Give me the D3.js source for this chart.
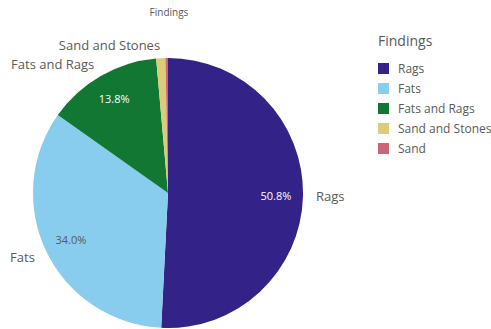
<!DOCTYPE html>
<html>
<head>
<meta charset="utf-8">
<script src="https://cdn.jsdelivr.net/npm/d3@7"></script>
<style>
  body { margin: 0; background: #fff; }
  text { font-family: "Open Sans", sans-serif; }
</style>
</head>
<body>
<div id="chart-area"></div>
<script>
// Data
const categories = ["Rags", "Fats", "Fats and Rags", "Sand and Stones", "Sand"]
const shares = [50.8, 34.0, 13.8, 1.1, 0.3]
const colors = ["#332288", "#88ccee", "#117733", "#ddcc77", "#cc6677"]

const W = 491, H = 329
const CX = 168, CY = 193, R = 135

const svg = d3.select("#chart-area").append("svg")
  .attr("width", W)
  .attr("height", H)

// Title
svg.append("text")
  .attr("x", 169).attr("y", 16)
  .attr("text-anchor", "middle")
  .attr("font-size", "10px")
  .attr("fill", "#595959")
  .text("Findings")

const data = categories.map((c, i) => ({ name: c, value: shares[i], color: colors[i] }))

const pie = d3.pie().sort(null).value(d => d.value)
const arcs = pie(data)
const arc = d3.arc().innerRadius(0).outerRadius(R)
const inner = d3.arc().innerRadius(R * 0.8).outerRadius(R * 0.8)
const outer = d3.arc().innerRadius(R + 13).outerRadius(R + 13)

const g = svg.append("g")
  .attr("transform", `translate(${CX}, ${CY})`)

g.selectAll("path")
  .data(arcs)
  .enter().append("path")
  .attr("d", arc)
  .attr("fill", d => d.data.color)

// percent labels inside
g.selectAll("text.pct")
  .data(arcs.filter(d => d.data.value > 5))
  .enter().append("text")
  .attr("class", "pct")
  .attr("transform", d => `translate(${inner.centroid(d)})`)
  .attr("text-anchor", "middle")
  .attr("dy", "0.35em")
  .attr("font-size", "11px")
  .attr("fill", d => d.data.name === "Fats" ? "#595959" : "#ffffff")
  .text(d => d.data.value.toFixed(1) + "%")

// category labels outside
g.selectAll("text.cat")
  .data(arcs.filter(d => d.data.value > 1))
  .enter().append("text")
  .attr("class", "cat")
  .attr("transform", d => `translate(${outer.centroid(d)})`)
  .attr("text-anchor", d => (d.startAngle + d.endAngle) / 2 < Math.PI ? "start" : "end")
  .attr("dy", "0.35em")
  .attr("font-size", "13px")
  .attr("fill", "#595959")
  .text(d => d.data.name)

// Legend
const legend = svg.append("g")
  .attr("transform", "translate(378, 0)")

legend.append("text")
  .attr("x", 0).attr("y", 46)
  .attr("font-size", "14px")
  .attr("fill", "#595959")
  .text("Findings")

const items = legend.selectAll("g.item")
  .data(data)
  .enter().append("g")
  .attr("class", "item")
  .attr("transform", (d, i) => `translate(0, ${63 + i * 20})`)

items.append("rect")
  .attr("width", 11).attr("height", 11)
  .attr("fill", d => d.color)

items.append("text")
  .attr("x", 20).attr("y", 6)
  .attr("dy", "0.35em")
  .attr("font-size", "12px")
  .attr("fill", "#595959")
  .text(d => d.name)
</script>
</body>
</html>
